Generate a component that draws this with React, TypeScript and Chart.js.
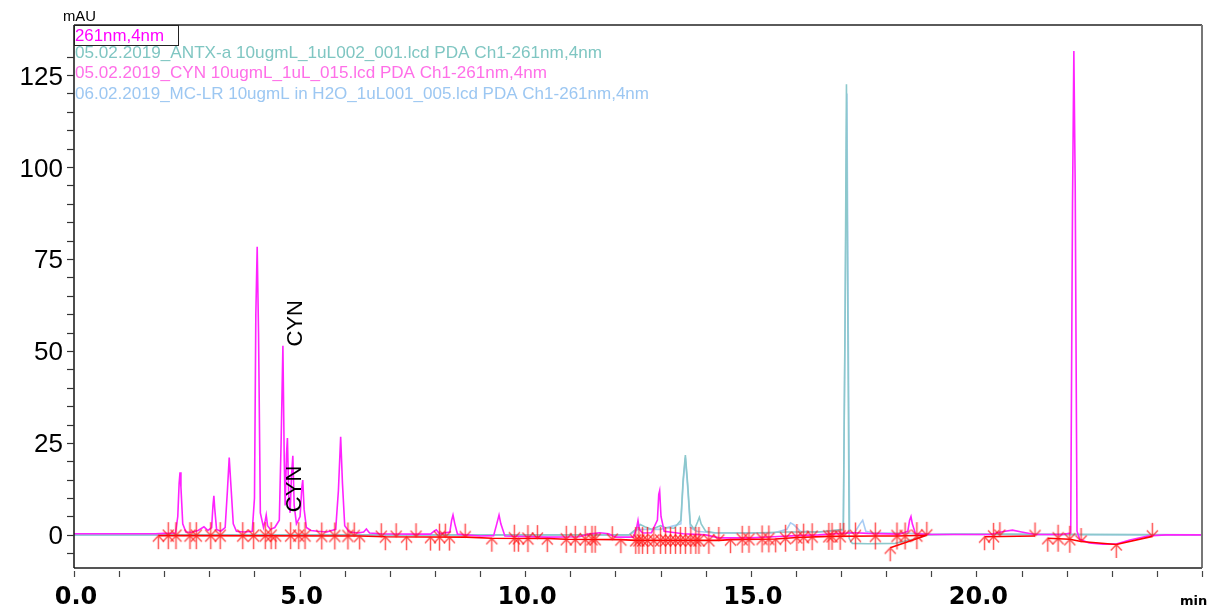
import React, { useEffect, useRef } from 'react';
import { Chart, registerables } from 'chart.js';
Chart.register(...registerables);

// ---------- data ----------
const X_MAJOR = [0, 5, 10, 15, 20];
const X_LABELS = ['0.0', '5.0', '10.0', '15.0', '20.0'];
const Y_MAJOR = [0, 25, 50, 75, 100, 125];
const Y_LABELS = ['0', '25', '50', '75', '100', '125'];

const LEGEND_TITLE = '261nm,4nm';
const SERIES_NAMES = [
  '05.02.2019_ANTX-a 10ugmL_1uL002_001.lcd PDA Ch1-261nm,4nm',
  '05.02.2019_CYN 10ugmL_1uL_015.lcd PDA Ch1-261nm,4nm',
  '06.02.2019_MC-LR 10ugmL in H2O_1uL001_005.lcd PDA Ch1-261nm,4nm',
];
const PEAK_LABELS = ['CYN', 'CYN'];
const PEAK_LABEL_POS: [number, number][] = [[4.92, 57.5], [4.89, 12.5]];

// retention time (min), absorbance (mAU)
const CYN_TRACE: [number, number][] = [
  [0, 0.3], [1.8, 0.3], [2.0, 0.4], [2.25, 0.5], [2.30, 5], [2.33, 14], [2.35, 17], [2.37, 13], [2.41, 3], [2.48, 0.8],
  [2.6, 0.7], [2.75, 1.2], [2.88, 2.2], [2.97, 1.2], [3.05, 2], [3.08, 8], [3.10, 10.6], [3.12, 7], [3.16, 1.5], [3.25, 1.0],
  [3.35, 2], [3.40, 12], [3.44, 21], [3.48, 13], [3.53, 3], [3.6, 1], [3.75, 0.8], [3.95, 1], [4.0, 10], [4.03, 60],
  [4.06, 78.3], [4.09, 55], [4.13, 6], [4.2, 2], [4.24, 4], [4.26, 5.4], [4.29, 2.5], [4.35, 1.5], [4.45, 2], [4.55, 4],
  [4.59, 25], [4.63, 51.4], [4.66, 20], [4.68, 8], [4.71, 22], [4.73, 26.3], [4.76, 10], [4.79, 6], [4.82, 16], [4.85, 21.5],
  [4.88, 8], [4.93, 3], [5.01, 5], [5.05, 13], [5.07, 14.9], [5.10, 7], [5.15, 2], [5.25, 1.2], [5.4, 1.0], [5.6, 0.8],
  [5.8, 1.5], [5.86, 12], [5.91, 26.7], [5.95, 14], [6.0, 2.5], [6.1, 0.8], [6.3, 0.5], [6.42, 0.8], [6.48, 1.6], [6.55, 0.5],
  [6.8, 0.3], [7.5, 0.2], [7.9, 0.2], [7.98, 1.0], [8.03, 1.4], [8.1, 0.3], [8.33, 0.8], [8.37, 4], [8.40, 5.4], [8.44, 3],
  [8.5, 0.2], [9.0, -0.3], [9.3, -0.2], [9.37, 3], [9.42, 5.4], [9.46, 3], [9.55, -0.3], [10.5, -0.6], [11.2, -0.5], [11.4, 0.2],
  [11.65, 0.6], [11.85, 0.3], [12.0, -0.6], [12.4, -0.6], [12.47, 2], [12.5, 3.9], [12.53, 1.5], [12.6, 0.5], [12.8, 0.6], [12.93, 4],
  [12.96, 11], [12.98, 12], [13.01, 5], [13.08, 1], [13.2, 0.8], [13.5, 0.3], [14, 0], [14.3, -0.8], [15, -0.8], [15.5, -0.5],
  [16, -0.2], [16.5, 0], [17, 0.4], [17.3, 0.6], [17.6, 0.4], [18.3, 0.2], [18.48, 1], [18.52, 4], [18.55, 5], [18.58, 3],
  [18.65, 0.3], [19, 0.1], [20.3, 0.1], [20.6, 0.9], [20.8, 1.3], [21.0, 0.8], [21.3, 0.1], [21.9, 0.1], [22.09, 0.5], [22.13, 90],
  [22.16, 131.5], [22.19, 95], [22.23, 1], [22.29, -1.2], [22.5, -2.2], [22.8, -2.5], [23.1, -2.5], [23.4, -1.4], [23.8, -0.3], [24.2, 0],
  [25, 0],
];

const ANTX_TRACE: [number, number][] = [
  [0, 0], [12.3, 0], [12.45, 1.5], [12.55, 2.8], [12.65, 2.2], [12.8, 1.5], [13.0, 2.5], [13.1, 2.0], [13.3, 1.8], [13.45, 4],
  [13.5, 15], [13.55, 21.7], [13.6, 14], [13.66, 3], [13.75, 1.5], [13.82, 3.5], [13.86, 4.8], [13.9, 3], [14.0, 1], [14.2, 0.6],
  [15, 0.5], [15.8, 0.8], [16.5, 0.8], [17.05, 1.5], [17.09, 60], [17.12, 122.5], [17.15, 60], [17.18, -1], [17.25, -2.3], [17.6, -2.4],
  [18.2, -2.3], [18.6, -1.2], [18.9, 0], [19.5, 0.2], [20.5, 0.2], [25, 0],
];

const MCLR_TRACE: [number, number][] = [
  [0, 0], [12.3, 0], [12.5, 1.5], [13.0, 1.5], [13.45, 3], [13.5, 14], [13.55, 21], [13.6, 13], [13.66, 2], [13.8, 1],
  [14.2, 0.5], [15.5, 0.5], [15.8, 1.5], [15.88, 3.3], [15.95, 2.8], [16.1, 1], [16.5, 0.8], [17.05, 1.2], [17.09, 58], [17.13, 120],
  [17.16, 55], [17.19, 0.5], [17.3, 0.6], [17.42, 3], [17.48, 4], [17.55, 1], [17.7, 0.6], [18.5, 0.4], [19, 0.2], [20, 0.1],
  [25, 0],
];

// integration marks: peak start (arrow up) / peak end (arrow down)
const PEAK_START: [number, number][] = [
  [1.87, -0.2], [2.09, -0.2], [2.26, -0.2], [2.57, -0.2], [2.71, -0.2], [3.03, -0.2], [3.24, -0.2], [3.74, -0.2], [3.98, -0.2], [4.24, -0.2],
  [4.37, -0.2], [4.47, -0.2], [4.80, -0.2], [4.98, -0.2], [5.12, -0.2], [5.49, -0.3], [5.78, -0.3], [6.07, -0.3], [6.33, -0.3],
  [6.90, -0.5], [7.37, -0.5], [7.90, -0.6], [8.10, -0.6], [8.32, -0.6], [9.26, -0.9], [9.76, -0.9], [9.85, -0.9], [10.06, -1.0], [10.49, -1.0],
  [10.91, -1.2], [11.11, -1.2], [11.33, -1.2], [11.48, -1.2], [11.55, -1.2], [12.12, -1.3], [12.45, -1.5], [12.52, -1.5], [12.60, -1.5], [12.71, -1.5],
  [12.85, -1.5], [13.00, -1.5], [13.11, -1.5], [13.22, -1.5], [13.33, -1.5], [13.44, -1.5], [13.55, -1.5], [13.67, -1.5], [13.78, -1.5], [13.85, -1.5],
  [14.07, -1.5], [14.55, -1.3], [14.81, -1.2], [14.96, -1.2], [15.25, -1.1], [15.40, -1.1], [15.55, -1.1], [15.77, -0.9], [16.02, -0.7], [16.17, -0.6],
  [16.36, -0.5], [16.73, -0.4], [16.80, -0.4], [16.98, -0.4], [17.32, -0.3], [17.76, -0.3], [18.09, -3.5], [18.24, -0.3], [18.42, -0.3], [18.68, -0.2],
  [20.18, -0.5], [20.38, -0.4], [21.58, -0.9], [21.81, -0.9], [22.07, -1.2], [23.10, -2.6],
];
const PEAK_END: [number, number][] = [
  [2.09, -0.2], [2.26, -0.2], [2.57, -0.2], [2.71, -0.2], [3.03, -0.2], [3.24, -0.2], [3.74, -0.2], [3.98, -0.2], [4.24, -0.2], [4.37, -0.2],
  [4.80, -0.2], [4.98, -0.2], [5.12, -0.2], [5.49, -0.3], [5.78, -0.3], [6.07, -0.3], [6.21, -0.3],
  [6.81, -0.5], [7.14, -0.5], [7.58, -0.5], [8.10, -0.6], [8.23, -0.6], [8.67, -0.6], [9.76, -0.9], [10.06, -1.0], [10.27, -1.0],
  [10.91, -1.2], [11.11, -1.2], [11.33, -1.2], [11.48, -1.2], [11.55, -1.2], [11.93, -1.3], [12.45, -1.5], [12.52, -1.5], [12.60, -1.5], [12.71, -1.5],
  [12.85, -1.5], [13.00, -1.5], [13.11, -1.5], [13.22, -1.5], [13.33, -1.5], [13.44, -1.5], [13.55, -1.5], [13.67, -1.5], [13.78, -1.5], [13.85, -1.5],
  [14.07, -1.5], [14.29, -1.5], [14.81, -1.2], [14.96, -1.2], [15.25, -1.1], [15.40, -1.1], [15.77, -0.9], [16.02, -0.7], [16.17, -0.6], [16.36, -0.5],
  [16.73, -0.4], [16.80, -0.4], [16.98, -0.4], [17.06, -0.4], [17.32, -0.3], [17.76, -0.3], [18.24, -0.3], [18.42, -0.3], [18.68, -0.2], [18.90, -0.1],
  [20.38, -0.4], [20.52, -0.2], [21.30, -0.3], [21.81, -0.9], [22.07, -1.2], [22.32, -1.8], [23.90, -0.4],
];

const BASELINE_SEGMENTS: [number, number][][] = [
  [[1.87, -0.2], [6.33, -0.3], [6.9, -0.5], [8.7, -0.6], [9.26, -0.9], [10.5, -1.0], [10.9, -1.2], [12.12, -1.3], [12.45, -1.5], [14.3, -1.5],
   [14.55, -1.3], [15.55, -1.1], [16.02, -0.7], [16.73, -0.4], [17.76, -0.3], [18.24, -0.3], [18.9, -0.1]],
  [[18.09, -3.5], [18.9, -0.1]],
  [[20.18, -0.5], [21.30, -0.3]],
  [[21.58, -0.9], [22.07, -1.2], [22.32, -1.8], [23.10, -2.6], [23.90, -0.4]],
];

// ---------- styles ----------
const COL_ANTX = '#8cc8cc';
const COL_CYN = '#ff22ff';
const COL_MCLR = '#a8ccf4';
const COL_MARK = 'rgba(255,20,20,0.72)';
const LEGEND_COLORS = ['#7fc6c2', '#ff6fe8', '#9cc7f2'];

function makeArrow(up: boolean): HTMLCanvasElement {
  const c = document.createElement('canvas');
  c.width = 15;
  c.height = 29;
  const g = c.getContext('2d')!;
  g.strokeStyle = COL_MARK;
  g.lineWidth = 1.5;
  g.beginPath();
  if (up) {
    g.moveTo(7.5, 14.5); g.lineTo(7.5, 28);
    g.moveTo(2, 20.5); g.lineTo(7.5, 14.5); g.lineTo(13, 20.5);
  } else {
    g.moveTo(7.5, 14.5); g.lineTo(7.5, 1);
    g.moveTo(2, 8.5); g.lineTo(7.5, 14.5); g.lineTo(13, 8.5);
  }
  g.stroke();
  return c;
}

const toXY = (arr: [number, number][]) => arr.map(([x, y]) => ({ x, y }));

function drawText(ctx: CanvasRenderingContext2D, text: string, x: number, y: number, font: string, color: string, width?: number) {
  ctx.save();
  ctx.font = font;
  ctx.fillStyle = color;
  ctx.textAlign = 'left';
  ctx.textBaseline = 'alphabetic';
  const w = ctx.measureText(text).width;
  ctx.translate(x, y);
  if (width) ctx.scale(width / w, 1);
  ctx.fillText(text, 0, 0);
  ctx.restore();
}

const overlay = {
  id: 'overlay',
  afterDatasetsDraw(chart: any) {
    const ctx: CanvasRenderingContext2D = chart.ctx;
    const { left, right, top, bottom } = chart.chartArea;
    const xs = chart.scales.x;
    const ys = chart.scales.y;
    ctx.save();
    // frame
    ctx.lineWidth = 2;
    ctx.strokeStyle = '#5a5a5a';
    ctx.beginPath(); ctx.moveTo(left, top); ctx.lineTo(right, top); ctx.stroke();
    ctx.strokeStyle = '#777';
    ctx.beginPath(); ctx.moveTo(right, top); ctx.lineTo(right, bottom); ctx.stroke();
    ctx.strokeStyle = '#555';
    ctx.beginPath(); ctx.moveTo(left, bottom); ctx.lineTo(right, bottom); ctx.stroke();
    ctx.strokeStyle = '#111';
    ctx.lineWidth = 1.5;
    ctx.beginPath(); ctx.moveTo(left, top); ctx.lineTo(left, bottom); ctx.stroke();

    // y ticks
    ctx.strokeStyle = '#333';
    ctx.lineWidth = 1.2;
    for (const t of ys.ticks) {
      const py = Math.round(ys.getPixelForValue(t.value)) + 0.5;
      ctx.beginPath(); ctx.moveTo(left - 7, py); ctx.lineTo(left, py); ctx.stroke();
    }
    // x ticks
    ctx.strokeStyle = '#444';
    for (const t of xs.ticks) {
      const px = Math.round(xs.getPixelForValue(t.value)) + 0.5;
      ctx.beginPath(); ctx.moveTo(px, bottom + 3); ctx.lineTo(px, bottom + 9); ctx.stroke();
    }
    // y labels
    ctx.fillStyle = '#000';
    ctx.font = '26px "Liberation Sans", Arial, sans-serif';
    ctx.textAlign = 'right';
    ctx.textBaseline = 'alphabetic';
    Y_MAJOR.forEach((v, i) => {
      ctx.fillText(Y_LABELS[i], left - 11, ys.getPixelForValue(v) + 9.5);
    });
    // x labels
    ctx.font = 'bold 24px "DejaVu Sans", sans-serif';
    ctx.textAlign = 'center';
    X_MAJOR.forEach((v, i) => {
      ctx.fillText(X_LABELS[i], xs.getPixelForValue(v) + 2, 604);
    });
    ctx.font = 'bold 13px "DejaVu Sans", sans-serif';
    ctx.textAlign = 'left';
    ctx.fillText('min', 1180, 605);
    // mAU
    drawText(ctx, 'mAU', 63, 21, '14px "Liberation Sans", Arial, sans-serif', '#000', 33);

    // legend
    ctx.strokeStyle = '#222';
    ctx.lineWidth = 1;
    ctx.strokeRect(left + 0.5, top + 0.5, 104, 20);
    drawText(ctx, LEGEND_TITLE, left + 1, top + 16, '17px "Liberation Sans", Arial, sans-serif', '#ff00ff', 89);
    const widths = [527, 472, 574];
    const bases = [58, 78, 99];
    SERIES_NAMES.forEach((n, i) => {
      drawText(ctx, n, left + 1, bases[i], '17px "Liberation Sans", Arial, sans-serif', LEGEND_COLORS[i], widths[i]);
    });

    // peak labels
    ctx.font = '22px "Liberation Sans", Arial, sans-serif';
    ctx.fillStyle = '#000';
    ctx.textAlign = 'center';
    ctx.textBaseline = 'middle';
    PEAK_LABELS.forEach((lab, i) => {
      const [t, v] = PEAK_LABEL_POS[i];
      ctx.save();
      ctx.translate(xs.getPixelForValue(t), ys.getPixelForValue(v));
      ctx.rotate(-Math.PI / 2);
      ctx.fillText(lab, 0, 0);
      ctx.restore();
    });
    ctx.restore();
  },
};

export default function App() {
  const ref = useRef<HTMLCanvasElement>(null);
  useEffect(() => {
    const up = makeArrow(true);
    const down = makeArrow(false);
    const baseline: any[] = [];
    BASELINE_SEGMENTS.forEach((seg, i) => {
      if (i > 0) baseline.push({ x: seg[0][0] - 0.001, y: null });
      seg.forEach(([x, y]) => baseline.push({ x, y }));
    });
    const chart = new Chart(ref.current!, {
      type: 'line',
      data: {
        datasets: [
          { label: 'start', data: toXY(PEAK_START), showLine: false, pointStyle: up as any, pointRadius: 5, order: 0 },
          { label: 'end', data: toXY(PEAK_END), showLine: false, pointStyle: down as any, pointRadius: 5, order: 0 },
          { label: 'baseline', data: baseline, borderColor: '#ff0000', borderWidth: 1.6, pointRadius: 0, spanGaps: false, order: 1 },
          { label: SERIES_NAMES[1], data: toXY(CYN_TRACE), borderColor: COL_CYN, borderWidth: 1.6, pointRadius: 0, order: 2 },
          { label: SERIES_NAMES[0], data: toXY(ANTX_TRACE), borderColor: COL_ANTX, borderWidth: 1.6, pointRadius: 0, order: 3 },
          { label: SERIES_NAMES[2], data: toXY(MCLR_TRACE), borderColor: COL_MCLR, borderWidth: 1.6, pointRadius: 0, order: 4 },
        ],
      },
      options: {
        animation: false,
        responsive: false,
        events: [],
        layout: { padding: { top: 25, right: 3, left: 0, bottom: 0 } },
        plugins: { legend: { display: false }, tooltip: { enabled: false } },
        scales: {
          x: {
            type: 'linear', min: 0, max: 25,
            ticks: { display: false, stepSize: 1 },
            grid: { display: false }, border: { display: false },
            afterBuildTicks: (s: any) => { s.ticks = s.ticks.filter((t: any) => Number.isInteger(t.value)); },
            afterFit: (s: any) => { s.height = 42; },
          },
          y: {
            type: 'linear', min: -9, max: 138.6,
            ticks: { display: false, stepSize: 5 },
            grid: { display: false }, border: { display: false },
            afterBuildTicks: (s: any) => { s.ticks = s.ticks.filter((t: any) => Math.abs(t.value % 5) < 1e-9); },
            afterFit: (s: any) => { s.width = 74; },
          },
        },
      },
      plugins: [overlay],
    });
    return () => chart.destroy();
  }, []);
  return (
    <div style={{ position: 'fixed', left: 0, top: 0, width: 1208, height: 610, background: '#fff' }}>
      <canvas ref={ref} width={1208} height={610} style={{ display: 'block' }} />
    </div>
  );
}
